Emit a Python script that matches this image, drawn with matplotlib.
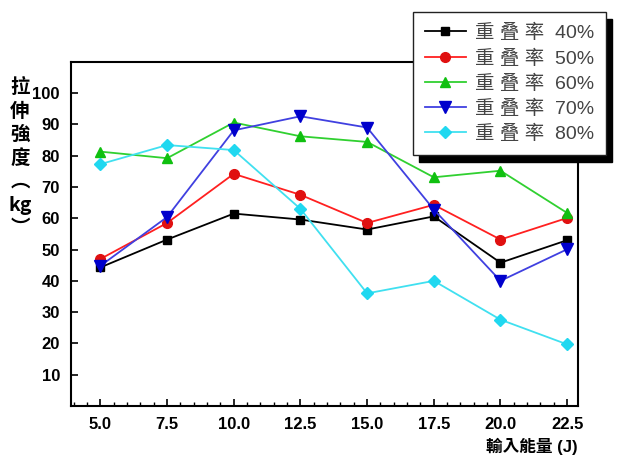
import matplotlib
matplotlib.use('Agg')
import matplotlib.pyplot as plt
from matplotlib.patches import Rectangle
from matplotlib.ticker import MultipleLocator

plt.rcParams['font.family'] = ['Liberation Sans', 'Noto Sans CJK TC', 'DejaVu Sans']

# input energy (J)
energy = [5.0, 7.5, 10.0, 12.5, 15.0, 17.5, 20.0, 22.5]

# tensile strength (kg) per overlap ratio
r40 = [44.3, 53.2, 61.5, 59.6, 56.4, 60.6, 45.8, 53.0]
r50 = [47.0, 58.5, 74.2, 67.5, 58.5, 64.3, 53.2, 60.1]
r60 = [81.3, 79.2, 90.6, 86.2, 84.4, 73.1, 75.2, 61.7]
r70 = [44.8, 60.4, 88.1, 92.6, 89.0, 62.8, 40.0, 50.1]
r80 = [77.3, 83.4, 81.8, 63.0, 36.0, 40.0, 27.6, 19.7]

labels = ['重 叠 率  40%', '重 叠 率  50%', '重 叠 率  60%', '重 叠 率  70%', '重 叠 率  80%']
series = [r40, r50, r60, r70, r80]
line_colors = ['black', '#ff2020', '#30d030', '#4040e0', '#40e0f0']
marker_colors = ['black', '#e01010', '#10c010', '#0000cc', '#20d8f0']
markers = ['s', 'o', '^', 'v', 'D']
msizes = [6, 7, 7, 8, 6]

fig = plt.figure(figsize=(6.18, 4.58), dpi=100)
ax = fig.add_axes([0.115, 0.1135, 0.82, 0.7515])

for vals, lab, lc, mc, mk, ms in zip(series, labels, line_colors, marker_colors, markers, msizes):
    ax.plot(energy, vals, color=lc, lw=1.3, marker=mk, ms=ms,
            mfc=mc, mec=mc, label=lab)

ax.set_xlim(3.9, 22.9)
ax.set_ylim(0, 110)
ax.set_xticks(energy)
ax.set_xticklabels([f'{v:.1f}' for v in energy])
ax.xaxis.set_minor_locator(MultipleLocator(0.5))
ax.set_yticks(range(10, 101, 10))

ax.tick_params(axis='both', which='major', direction='in', length=5, width=1.2,
               labelsize=12, pad=8)
ax.tick_params(axis='x', which='minor', direction='in', length=3, width=1)
for t in ax.get_xticklabels() + ax.get_yticklabels():
    t.set_fontweight('bold')
for s in ax.spines.values():
    s.set_linewidth(1.5)

ax.set_xlabel('輸入能量 (J)', loc='right', fontsize=12, fontweight='bold', labelpad=4)

fig.text(20 / 618, 1 - 78 / 458, '拉\n伸\n強\n度\n︵\nkg\n︶', ha='center', va='top',
         fontsize=14, fontweight='bold', linespacing=1.3,
         family=['Noto Sans CJK TC', 'DejaVu Sans'])

leg = fig.legend(loc='upper left', bbox_to_anchor=(413 / 618, 1 - 12 / 458),
                 borderaxespad=0, fancybox=False, framealpha=1, edgecolor='#222222',
                 fontsize=14, handlelength=2.1, labelspacing=0.36,
                 borderpad=0.62, handletextpad=0.45)
leg.get_frame().set_linewidth(1.0)
for t in leg.get_texts():
    t.set_color('#444444')

# drop shadow behind the legend box
fig.canvas.draw()
bb = leg.get_window_extent().transformed(fig.transFigure.inverted())
dx, dy = 6 / 618, 7 / 458
fig.add_artist(Rectangle((bb.x0 + dx, bb.y0 - dy), bb.width, bb.height,
                         transform=fig.transFigure, color='black', zorder=4.9))

plt.savefig('out.png', dpi=100)
